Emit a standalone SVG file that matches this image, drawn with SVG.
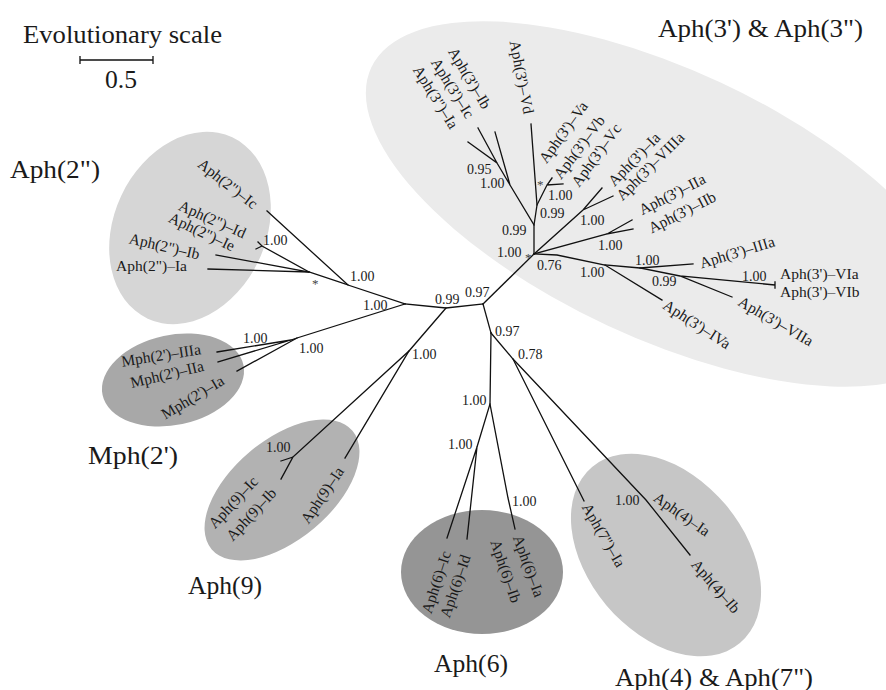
<svg xmlns="http://www.w3.org/2000/svg" width="886" height="690" viewBox="0 0 886 690">
  <style>
    text { font-family: "Liberation Serif", "Times New Roman", serif; fill: #1a1a1a; }
    .big { font-size: 25px; }
    .leaf { font-size: 15.5px; }
    .num { font-size: 14px; }
    .star { font-size: 13px; fill: #444; }
    .mid { text-anchor: middle; dominant-baseline: central; }
    .edges path, .edges line { stroke: #111; stroke-width: 1.3; fill: none; stroke-linecap: square; }
  </style>

  <!-- clade backgrounds -->
  <g id="clade-aph3">
    <ellipse cx="664" cy="204" rx="323" ry="134" transform="rotate(25 664 204)" fill="#ebebeb"/>
  </g>
  <g id="clade-aph2">
    <ellipse cx="190" cy="228" rx="76" ry="100" transform="rotate(25 190 228)" fill="#d6d6d6"/>
  </g>
  <g id="clade-mph2">
    <ellipse cx="173" cy="380" rx="72" ry="45" transform="rotate(-12 173 380)" fill="#a8a8a8"/>
  </g>
  <g id="clade-aph9">
    <ellipse cx="282" cy="490" rx="92" ry="50" transform="rotate(-40 282 490)" fill="#b2b2b2"/>
  </g>
  <g id="clade-aph6">
    <ellipse cx="482" cy="572" rx="81" ry="62" fill="#959595"/>
  </g>
  <g id="clade-aph4-7">
    <ellipse cx="666" cy="555" rx="115" ry="78" transform="rotate(50 666 555)" fill="#c6c6c6"/>
  </g>

  <!-- scale bar -->
  <g id="scale">
    <text class="big" x="23" y="43" textLength="199" lengthAdjust="spacingAndGlyphs">Evolutionary scale</text>
    <path d="M80 60 H153 M80 56 V64 M153 56 V64" stroke="#111" stroke-width="1.3" fill="none"/>
    <text class="big" x="105" y="88" textLength="32" lengthAdjust="spacingAndGlyphs">0.5</text>
  </g>

  <!-- branches -->
  <g class="edges" id="edges">
    <!-- backbone -->
    <path d="M405 304 L446 308 L483 304"/>
    <path d="M483 304 L534 254"/>
    <path d="M483 304 L491 333"/>
    <!-- Aph(2") -->
    <path d="M405 304 L348 285 L267 211"/>
    <path d="M348 285 L309 272 L208 269"/>
    <path d="M309 272 L216 255"/>
    <path d="M309 272 L262 246 L258 242 M262 246 L256 249"/>
    <!-- Mph(2') -->
    <path d="M405 304 L297 338 L237 371"/>
    <path d="M297 338 L291 340 L217 352 M291 340 L218 362"/>
    <!-- Aph(9) -->
    <path d="M446 308 L409 351 L345 458"/>
    <path d="M409 351 L293 457 L281 461 M293 457 L281 479"/>
    <!-- Aph(6) -->
    <path d="M491 333 L490 404 L477 447 L447 538 M477 447 L467 539"/>
    <path d="M490 404 L508 498 L515 529"/>
    <!-- Aph(4) & Aph(7") -->
    <path d="M491 333 L513 359 L584 501"/>
    <path d="M513 359 L646 500 L690 555"/>
    <!-- Aph(3') & Aph(3") -->
    <path d="M534 254 L534 225 L510 185 L497 163 L478 128 M497 163 L468 142 M510 185 L495 132"/>
    <path d="M534 225 L537 205 L531 124"/>
    <path d="M537 205 L547 185 L552 178 M547 185 L563 184"/>
    <path d="M534 254 L583 210 L602 188 M583 210 L613 196"/>
    <path d="M534 254 L607 234 L632 220 M607 234 L633 229"/>
    <path d="M534 254 L557 255 L605 265 L662 300"/>
    <path d="M605 265 L640 268 L693 264"/>
    <path d="M640 268 L680 276 L732 297 M680 276 L775 285 M775 282 V288"/>
  </g>

  <!-- support values -->
  <g id="support">
    <text class="num" x="263" y="245">1.00</text>
    <text class="num" x="350" y="281">1.00</text>
    <text class="num" x="363" y="310">1.00</text>
    <text class="num" x="243" y="343">1.00</text>
    <text class="num" x="299" y="353">1.00</text>
    <text class="num" x="435" y="304">0.99</text>
    <text class="num" x="465" y="297">0.97</text>
    <text class="num" x="495" y="336">0.97</text>
    <text class="num" x="518" y="359">0.78</text>
    <text class="num" x="412" y="359">1.00</text>
    <text class="num" x="266" y="452">1.00</text>
    <text class="num" x="462" y="405">1.00</text>
    <text class="num" x="448" y="449">1.00</text>
    <text class="num" x="512" y="506">1.00</text>
    <text class="num" x="615" y="505">1.00</text>
    <text class="num" x="467" y="174">0.95</text>
    <text class="num" x="480" y="188">1.00</text>
    <text class="num" x="540" y="218">0.99</text>
    <text class="num" x="548" y="200">1.00</text>
    <text class="num" x="502" y="235">0.99</text>
    <text class="num" x="497" y="257">1.00</text>
    <text class="num" x="580" y="225">1.00</text>
    <text class="num" x="598" y="250">1.00</text>
    <text class="num" x="537" y="270">0.76</text>
    <text class="num" x="580" y="277">1.00</text>
    <text class="num" x="635" y="265">1.00</text>
    <text class="num" x="652" y="286">0.99</text>
    <text class="num" x="742" y="281">1.00</text>
    <text class="star" x="312" y="288">*</text>
    <text class="star" x="525" y="262">*</text>
    <text class="star" x="537" y="189">*</text>
  </g>

  <!-- leaf names -->
  <g id="leaves-aph2">
    <text class="leaf mid" transform="translate(228 183.5) rotate(38)">Aph(2")–Ic</text>
    <text class="leaf mid" transform="translate(212.5 219) rotate(24)">Aph(2")–Id</text>
    <text class="leaf mid" transform="translate(202 231.5) rotate(25)">Aph(2")–Ie</text>
    <text class="leaf mid" transform="translate(164.5 246) rotate(13)">Aph(2")–Ib</text>
    <text class="leaf" x="187" y="271" text-anchor="end">Aph(2")–Ia</text>
  </g>
  <g id="leaves-mph2">
    <text class="leaf mid" transform="translate(161 355) rotate(-9)">Mph(2')–IIIa</text>
    <text class="leaf mid" transform="translate(167 374) rotate(-13.5)">Mph(2')–IIa</text>
    <text class="leaf mid" transform="translate(192.5 397) rotate(-31)">Mph(2')–Ia</text>
  </g>
  <g id="leaves-aph9">
    <text class="leaf mid" transform="translate(233 502) rotate(-47)">Aph(9)–Ic</text>
    <text class="leaf mid" transform="translate(251 514) rotate(-47)">Aph(9)–Ib</text>
    <text class="leaf mid" transform="translate(322 495) rotate(-56)">Aph(9)–Ia</text>
  </g>
  <g id="leaves-aph6">
    <text class="leaf mid" transform="translate(436 582) rotate(-72)">Aph(6)–Ic</text>
    <text class="leaf mid" transform="translate(455 586) rotate(-71)">Aph(6)–Id</text>
    <text class="leaf mid" transform="translate(529 566) rotate(70)">Aph(6)–Ia</text>
    <text class="leaf mid" transform="translate(506 571) rotate(71)">Aph(6)–Ib</text>
  </g>
  <g id="leaves-aph4-7">
    <text class="leaf mid" transform="translate(604 535) rotate(60)">Aph(7")–Ia</text>
    <text class="leaf mid" transform="translate(682 514) rotate(35)">Aph(4)–Ia</text>
    <text class="leaf mid" transform="translate(716 586) rotate(49)">Aph(4)–Ib</text>
  </g>
  <g id="leaves-aph3">
    <text class="leaf mid" transform="translate(470 78) rotate(59)">Aph(3')–Ib</text>
    <text class="leaf mid" transform="translate(453 88) rotate(58)">Aph(3')–Ic</text>
    <text class="leaf mid" transform="translate(436 97) rotate(58)">Aph(3")–Ia</text>
    <text class="leaf mid" transform="translate(522 77) rotate(79)">Aph(3')–Vd</text>
    <text class="leaf mid" transform="translate(563 132) rotate(-54)">Aph(3')–Va</text>
    <text class="leaf mid" transform="translate(579 147) rotate(-53)">Aph(3')–Vb</text>
    <text class="leaf mid" transform="translate(596 155) rotate(-54)">Aph(3')–Vc</text>
    <text class="leaf mid" transform="translate(634 159) rotate(-46)">Aph(3')–Ia</text>
    <text class="leaf mid" transform="translate(650 166) rotate(-45)">Aph(3')–VIIIa</text>
    <text class="leaf mid" transform="translate(672 194) rotate(-27)">Aph(3')–IIa</text>
    <text class="leaf mid" transform="translate(682 212) rotate(-27)">Aph(3')–IIb</text>
    <text class="leaf mid" transform="translate(737 252) rotate(-17)">Aph(3')–IIIa</text>
    <text class="leaf" x="780" y="279">Aph(3')–VIa</text>
    <text class="leaf" x="780" y="297">Aph(3')–VIb</text>
    <text class="leaf mid" transform="translate(697 324) rotate(33)">Aph(3')–IVa</text>
    <text class="leaf mid" transform="translate(776 321) rotate(30)">Aph(3')–VIIa</text>
  </g>

  <!-- clade names -->
  <g id="clade-names">
    <text class="big" x="658" y="37" textLength="205" lengthAdjust="spacingAndGlyphs">Aph(3') &amp; Aph(3")</text>
    <text class="big" x="10" y="178" textLength="90" lengthAdjust="spacingAndGlyphs">Aph(2")</text>
    <text class="big" x="88" y="464" textLength="90" lengthAdjust="spacingAndGlyphs">Mph(2')</text>
    <text class="big" x="188" y="594" textLength="74" lengthAdjust="spacingAndGlyphs">Aph(9)</text>
    <text class="big" x="434" y="672" textLength="74" lengthAdjust="spacingAndGlyphs">Aph(6)</text>
    <text class="big" x="615" y="686" textLength="198" lengthAdjust="spacingAndGlyphs">Aph(4) &amp; Aph(7")</text>
  </g>
</svg>
